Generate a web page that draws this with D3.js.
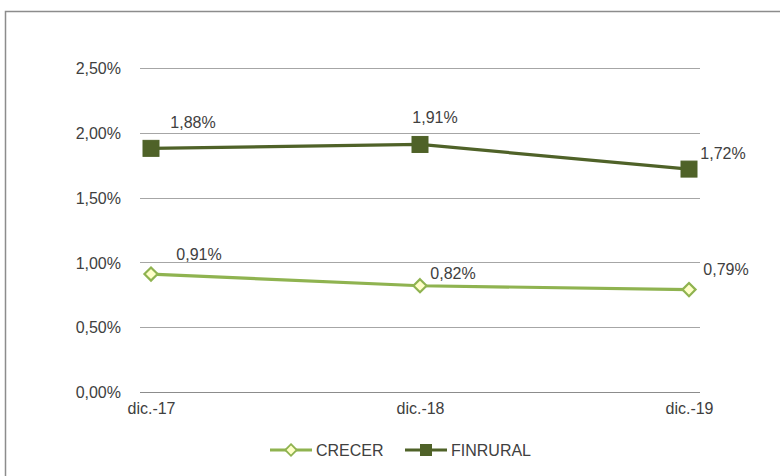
<!DOCTYPE html>
<html>
<head>
<meta charset="utf-8">
<script src="https://cdn.jsdelivr.net/npm/d3@7"></script>
<style>
  body { margin: 0; background: #fff; }
  text { font-family: "Liberation Sans", Arial, sans-serif; fill: #404040; }
</style>
</head>
<body>
<div id="chart"></div>
<script>
// data
var categories = ["dic.-17", "dic.-18", "dic.-19"];
var crecer = [0.91, 0.82, 0.79];
var finrural = [1.88, 1.91, 1.72];
var yTicks = [0, 0.5, 1, 1.5, 2, 2.5];

var width = 780, height = 476;
var fontFam = "'Liberation Sans', Arial, sans-serif";
var fontSize = 16;

var svg = d3.select("#chart")
    .append("svg")
    .attr("width", width)
    .attr("height", height);

// outer frame
svg.append("rect")
    .attr("x", 5.5).attr("y", 11.5)
    .attr("width", 800).attr("height", 500)
    .attr("fill", "none")
    .attr("stroke", "#8c8c8c")
    .attr("stroke-width", 1.5);

var xScale = d3.scalePoint()
    .domain(categories)
    .range([151, 689]);

var yScale = d3.scaleLinear()
    .domain([0, 2.5])
    .range([392, 68]);

var fmt = function(v) { return d3.format(".2f")(v).replace(".", ",") + "%"; };

// gridlines
svg.append("g").selectAll("line")
    .data(yTicks).enter()
    .append("line")
    .attr("x1", 140).attr("x2", 700)
    .attr("y1", function(d) { return Math.round(yScale(d)) + 0.5; })
    .attr("y2", function(d) { return Math.round(yScale(d)) + 0.5; })
    .attr("stroke", d => d === 0 ? "#8c8c8c" : "#a6a6a6")
    .attr("stroke-width", 1);

// y axis labels
var yAxis = d3.axisLeft(yScale).tickValues(yTicks).tickFormat(fmt).tickSize(0).tickPadding(0);
var yG = svg.append("g")
    .attr("transform", "translate(121,0)")
    .call(yAxis);
yG.select(".domain").remove();
yG.selectAll("text")
    .attr("font-size", fontSize)
    .attr("fill", "#404040")
    .style("font-family", fontFam)
    .attr("dy", "0.35em");

// x axis labels
var xAxis = d3.axisBottom(xScale).tickSize(0).tickPadding(0);
var xG = svg.append("g")
    .attr("transform", "translate(0,403)")
    .call(xAxis);
xG.select(".domain").remove();
xG.selectAll("text")
    .attr("font-size", fontSize)
    .attr("fill", "#404040")
    .style("font-family", fontFam)
    .attr("dy", "0.71em");

var line = d3.line()
    .x(function(d, i) { return xScale(categories[i]); })
    .y(function(d) { return yScale(d); });

var darkGreen = "#4f6228";
var lightGreen = "#8fb350";

// FINRURAL line
svg.append("path")
    .datum(finrural)
    .attr("d", line)
    .attr("fill", "none")
    .attr("stroke", darkGreen)
    .attr("stroke-width", 3.2);

svg.selectAll(".sq")
    .data(finrural).enter()
    .append("rect")
    .attr("class", "sq")
    .attr("x", function(d, i) { return xScale(categories[i]) - 8; })
    .attr("y", function(d) { return yScale(d) - 8; })
    .attr("width", 16).attr("height", 16)
    .attr("fill", darkGreen)
    .attr("stroke", darkGreen)
    .attr("stroke-width", 1);

// CRECER line
svg.append("path")
    .datum(crecer)
    .attr("d", line)
    .attr("fill", "none")
    .attr("stroke", lightGreen)
    .attr("stroke-width", 3.2);

var diamond = d3.symbol().type(d3.symbolDiamond2).size(110);
svg.selectAll(".dm")
    .data(crecer).enter()
    .append("path")
    .attr("class", "dm")
    .attr("d", diamond)
    .attr("transform", function(d, i) {
        return "translate(" + xScale(categories[i]) + "," + yScale(d) + ")";
    })
    .attr("fill", "#ffffc8")
    .attr("stroke", lightGreen)
    .attr("stroke-width", 2.2);

// data labels
var finOffsets = [[42, -26], [15, -27], [34, -16]];
var creOffsets = [[48, -20], [33, -12], [37, -20]];

svg.selectAll(".finLab")
    .data(finrural).enter()
    .append("text")
    .attr("class", "finLab")
    .attr("x", function(d, i) { return xScale(categories[i]) + finOffsets[i][0]; })
    .attr("y", function(d, i) { return yScale(d) + finOffsets[i][1]; })
    .attr("text-anchor", "middle")
    .attr("dy", "0.35em")
    .attr("font-size", fontSize)
    .text(fmt);

svg.selectAll(".creLab")
    .data(crecer).enter()
    .append("text")
    .attr("class", "creLab")
    .attr("x", function(d, i) { return xScale(categories[i]) + creOffsets[i][0]; })
    .attr("y", function(d, i) { return yScale(d) + creOffsets[i][1]; })
    .attr("text-anchor", "middle")
    .attr("dy", "0.35em")
    .attr("font-size", fontSize)
    .text(fmt);

// legend
var legend = svg.append("g").attr("transform", "translate(0,450)");
var lg1 = legend.append("g").attr("transform", "translate(270,0)");
lg1.append("line").attr("x1", 0).attr("x2", 42).attr("y1", 0).attr("y2", 0)
    .attr("stroke", lightGreen).attr("stroke-width", 3.2);
lg1.append("path").attr("d", d3.symbol().type(d3.symbolDiamond2).size(85))
    .attr("transform", "translate(21,0)")
    .attr("fill", "#ffffc8").attr("stroke", lightGreen).attr("stroke-width", 1.8);
lg1.append("text").attr("x", 46).attr("dy", "0.35em").attr("font-size", fontSize).text("CRECER");

var lg2 = legend.append("g").attr("transform", "translate(405,0)");
lg2.append("line").attr("x1", 0).attr("x2", 42).attr("y1", 0).attr("y2", 0)
    .attr("stroke", darkGreen).attr("stroke-width", 3.2);
lg2.append("rect").attr("x", 15).attr("y", -6).attr("width", 12).attr("height", 12)
    .attr("fill", darkGreen);
lg2.append("text").attr("x", 46).attr("dy", "0.35em").attr("font-size", fontSize).text("FINRURAL");
</script>
</body>
</html>
